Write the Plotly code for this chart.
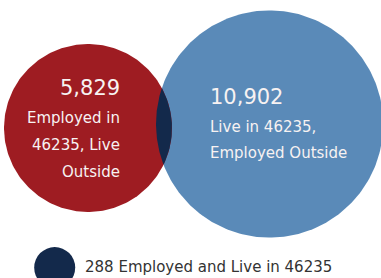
import numpy as np
import plotly.graph_objects as go

# ---- data ----
groups = ["Employed in 46235, Live Outside", "Live in 46235, Employed Outside", "Employed and Live in 46235"]
counts = [5829, 10902, 288]
label_lines_left = ["Employed in", "46235, Live", "Outside"]
label_lines_right = ["Live in 46235,", "Employed Outside"]
legend_label = "Employed and Live in 46235"

# ---- styling / layout constants ----
W, H = 381, 278
RED = "#9E1C22"
BLUE = "#5A8AB8"
NAVY = "#13294B"
TXT = "#F7F2F2"
FONT = "DejaVu Sans"

# circle sizes: area proportional to totals (each set incl. the overlap)
tot_left = counts[0] + counts[2]
tot_right = counts[1] + counts[2]
k = 84.0 / np.sqrt(tot_left)
r1 = k * np.sqrt(tot_left)
r2 = k * np.sqrt(tot_right)
c1 = np.array([172.0 - r1, 128.0])
c2 = np.array([156.0 + r2, 124.0])


def circle_xy(c, r, n=240):
    t = np.linspace(0, 2 * np.pi, n)
    return c[0] + r * np.cos(t), c[1] + r * np.sin(t)


def lens_xy(c1, r1, c2, r2, n=80):
    dv = c2 - c1
    d = np.hypot(*dv)
    u = dv / d
    a = (r1**2 - r2**2 + d**2) / (2 * d)
    phi1 = np.arctan2(u[1], u[0])
    al1 = np.arccos(a / r1)
    phi2 = phi1 + np.pi
    al2 = np.arccos((d - a) / r2)
    t1 = np.linspace(phi1 - al1, phi1 + al1, n)
    t2 = np.linspace(phi2 - al2, phi2 + al2, n)
    xs = np.concatenate([c1[0] + r1 * np.cos(t1), c2[0] + r2 * np.cos(t2)])
    ys = np.concatenate([c1[1] + r1 * np.sin(t1), c2[1] + r2 * np.sin(t2)])
    return np.append(xs, xs[0]), np.append(ys, ys[0])


fig = go.Figure()
x, y = circle_xy(c2, r2)
fig.add_trace(go.Scatter(x=x, y=y, fill="toself", fillcolor=BLUE, mode="lines",
                         line=dict(width=0, color=BLUE), hoverinfo="skip", name=groups[1]))
x, y = circle_xy(c1, r1)
fig.add_trace(go.Scatter(x=x, y=y, fill="toself", fillcolor=RED, mode="lines",
                         line=dict(width=0, color=RED), hoverinfo="skip", name=groups[0]))
x, y = lens_xy(c1, r1, c2, r2)
fig.add_trace(go.Scatter(x=x, y=y, fill="toself", fillcolor=NAVY, mode="lines",
                         line=dict(width=0, color=NAVY), hoverinfo="skip", name=groups[2]))

# legend dot
fig.add_trace(go.Scatter(x=[54.7], y=[267.6], mode="markers",
                         marker=dict(size=41, color=NAVY, line=dict(width=0)),
                         hoverinfo="skip", name=groups[2]))

anns = []
# left labels (right-aligned)
xr = 121
anns.append(dict(x=xr, y=88, text=f"{counts[0]:,}", xanchor="right", yanchor="middle",
                 font=dict(size=21, color=TXT, family=FONT)))
for i, ln in enumerate(label_lines_left):
    anns.append(dict(x=xr, y=118 + 27 * i, text=ln, xanchor="right", yanchor="middle",
                     font=dict(size=15, color=TXT, family=FONT)))
# right labels (left-aligned)
xl = 209
anns.append(dict(x=xl, y=97, text=f"{counts[1]:,}", xanchor="left", yanchor="middle",
                 font=dict(size=21, color=TXT, family=FONT)))
for i, ln in enumerate(label_lines_right):
    anns.append(dict(x=xl, y=127 + 26 * i, text=ln, xanchor="left", yanchor="middle",
                     font=dict(size=15, color=TXT, family=FONT)))
# legend text
anns.append(dict(x=84, y=267, text=f"{counts[2]:,} {legend_label}", xanchor="left", yanchor="middle",
                 font=dict(size=15, color="#333333", family=FONT)))
for a in anns:
    a.update(xref="x", yref="y", showarrow=False, borderpad=0)

fig.update_layout(
    width=W, height=H,
    margin=dict(l=0, r=0, t=0, b=0),
    paper_bgcolor="white", plot_bgcolor="white",
    showlegend=False,
    annotations=anns,
    xaxis=dict(range=[0, W], visible=False, fixedrange=True),
    yaxis=dict(range=[H, 0], visible=False, fixedrange=True),
)
fig.write_html("out.html", config={"displayModeBar": False},
               post_script="document.body.style.margin='0';document.body.style.overflow='hidden';")
